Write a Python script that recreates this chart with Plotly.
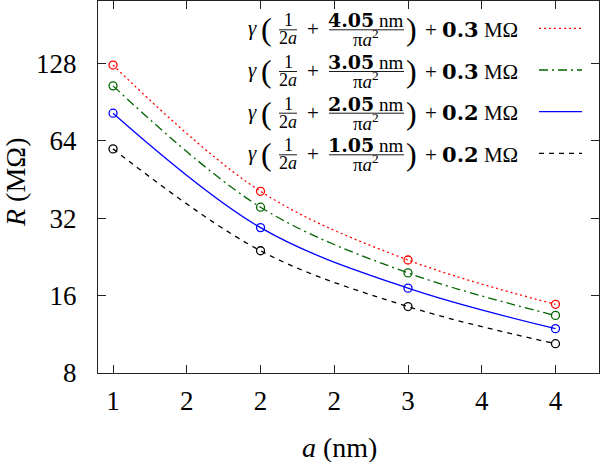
import plotly.graph_objects as go

# ---------------- data ----------------
a_nm = [1, 2, 3, 4]
R_L405 = [126.0, 40.7, 22.0, 14.8]
R_L305 = [104.6, 35.3, 19.6, 13.4]
R_L205 = [81.9, 29.4, 17.1, 11.9]
R_L105 = [59.5, 23.9, 14.5, 10.4]

x_tickvals = [1, 1.5, 2, 2.5, 3, 3.5, 4]
x_ticktext = ["1", "2", "2", "2", "3", "4", "4"]
y_tickvals = [8, 16, 32, 64, 128]
y_ticktext = ["8", "16", "32", "64", "128"]

legend_lengths = ["4.05", "3.05", "2.05", "1.05"]
legend_offsets = ["0.3", "0.3", "0.2", "0.2"]

# ---------------- styling ----------------
series = [
    (R_L405, "#ff0000", "2px,3px"),
    (R_L305, "#006400", "9px,4px,2px,4px"),
    (R_L205, "#0000ff", "solid"),
    (R_L105, "#000000", "5px,5px"),
]
SERIF = "Liberation Serif"
OHM = "M\u03a9"
BOLDSPAN = "<span style='font-family:DejaVu Serif;font-weight:bold'>{}</span>"

L_M, R_M, T_M, B_M = 98, 1, 1, 89
W, H = 600, 462
PW, PH = W - L_M - R_M, H - T_M - B_M


def fx(px):
    return (px - L_M) / PW


def fy(py):
    return (H - B_M - py) / PH


fig = go.Figure()
for vals, col, dash in series:
    fig.add_trace(go.Scatter(
        x=a_nm, y=vals, mode="lines+markers", showlegend=False,
        line=dict(color=col, width=1.3, dash=dash, shape="spline", smoothing=1),
        marker=dict(symbol="circle-open", size=8, color=col, line=dict(width=1.3)),
    ))

annotations = []
shapes = []


def ann(px, py, text, size, xanchor="center", angle=0):
    annotations.append(dict(
        x=fx(px), y=fy(py), xref="paper", yref="paper", text=text,
        showarrow=False, xanchor=xanchor, yanchor="middle", textangle=angle,
        font=dict(family=SERIF, size=size, color="black"),
    ))


def hline(px0, px1, py, color="black", dash="solid", width=1):
    shapes.append(dict(
        type="line", xref="paper", yref="paper",
        x0=fx(px0), x1=fx(px1), y0=fy(py), y1=fy(py),
        line=dict(color=color, width=width, dash=dash),
    ))


rows_cy = [28.3, 70.0, 111.7, 153.3]
for i, (L, c0, (vals, col, dash)) in enumerate(zip(legend_lengths, legend_offsets, series)):
    cy = rows_cy[i]
    ann(252, cy, "<i>\u03b3</i>", 21)
    ann(266, cy + 1, "(", 32)
    ann(288, cy - 8, "1", 18)
    ann(288, cy + 10, "2<i>a</i>", 18)
    hline(279, 297, cy + 1.5, width=0.9)
    ann(313, cy + 1, "+", 21)
    ann(366, cy - 8, BOLDSPAN.format(L) + " nm", 19)
    ann(366, cy + 10, "\u03c0<i>a</i><sup>2</sup>", 19)
    hline(329, 404, cy + 1.5, width=0.9)
    ann(411, cy + 1, ")", 32)
    ann(423, cy + 1, "+ " + BOLDSPAN.format(c0) + " " + OHM, 21, xanchor="left")
    hline(539, 582, cy, color=col, dash=dash, width=1.3)

# axis titles
ann(15, 183, "<i>R</i> (" + OHM + ")", 28, angle=-90)
ann(339, 447, "<i>a</i> (nm)", 28)

axis_common = dict(
    showline=True, linecolor="#222", linewidth=1, mirror="ticks",
    ticks="inside", ticklen=8, tickwidth=1, tickcolor="#222",
    showgrid=False, zeroline=False,
    tickfont=dict(family=SERIF, size=27, color="black"),
)

fig.update_layout(
    width=W, height=H,
    margin=dict(l=L_M, r=R_M, t=T_M, b=B_M),
    paper_bgcolor="white", plot_bgcolor="white",
    xaxis=dict(range=[0.898, 4.295], tickvals=x_tickvals, ticktext=x_ticktext,
               ticklabelstandoff=4, **axis_common),
    yaxis=dict(type="log", range=[0.90309, 2.3495], tickvals=y_tickvals,
               ticktext=y_ticktext, ticklabelstandoff=15, **axis_common),
    annotations=annotations, shapes=shapes,
)

fig.write_html("out.html", config={"displayModeBar": False},
               post_script="document.body.style.margin='0px';")
